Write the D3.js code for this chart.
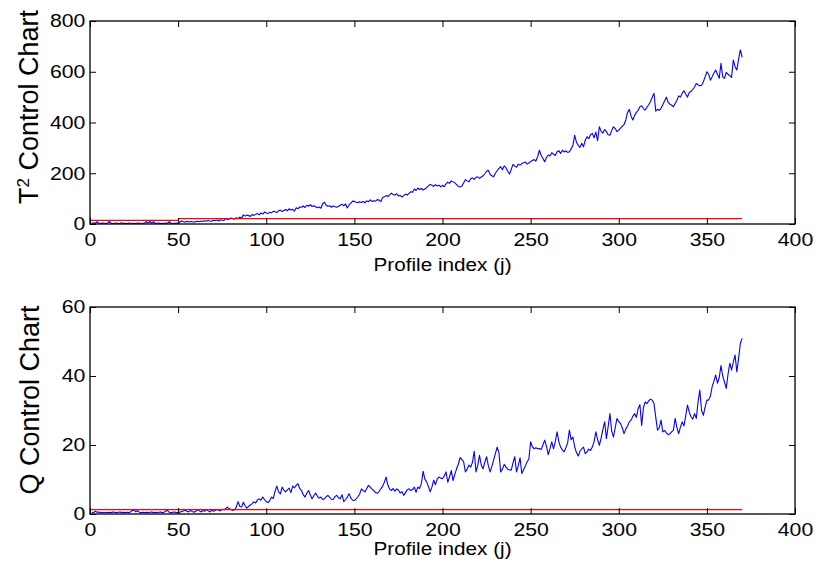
<!DOCTYPE html>
<html>
<head>
<meta charset="utf-8">
<script src="https://cdn.jsdelivr.net/npm/d3@7"></script>
<style>
  body { margin: 0; background: #fff; }
  svg { display: block; font-family: "Liberation Sans", Arial, sans-serif; }
</style>
</head>
<body>
<svg id="chart" width="816" height="563"></svg>
<script>
// Hotelling T^2 statistic per profile j = 1..370
const t2Values = [
  3, 5, 2, 9, 3, 2, 4, 3, 2, 4,
  10, 3, 2, 3, 4, 2, 3, 5, 2, 3,
  2, 4, 3, 2, 3, 2, 4, 3, 2, 3,
  3, 9, 4, 10, 3, 9, 2, 3, 4, 2,
  3, 2, 4, 3, 9, 3, 2, 3, 4, 2,
  8, 12, 9, 7, 11, 8, 10, 9, 7, 10,
  11, 9, 12, 10, 13, 11, 14, 12, 11, 15,
  13, 16, 12, 17, 15, 14, 22, 18, 20, 24,
  22, 19, 25, 21, 27, 24, 36, 31, 35, 33,
  30, 37, 34, 38, 41, 36, 44, 39, 47, 43,
  41, 46, 44, 50, 48, 45, 52, 55, 49, 53,
  57, 52, 60, 55, 58, 51, 64, 60, 67, 66,
  71, 65, 74, 70, 76, 69, 72, 68, 64, 67,
  62, 79, 86, 74, 70, 72, 66, 71, 68, 66,
  70, 74, 78, 71, 79, 63, 75, 82, 90, 89,
  86, 84, 88, 85, 89, 83, 91, 88, 95, 89,
  92, 90, 96, 94, 88, 104, 107, 112, 108, 115,
  122, 116, 114, 120, 110, 113, 106, 112, 118, 114,
  121, 127, 125, 138, 132, 142, 136, 140, 134, 138,
  143, 150, 156, 153, 148, 155, 150, 153, 146, 152,
  147, 158, 165, 160, 170, 166, 162, 155, 148, 146,
  150, 162, 175, 170, 166, 178, 182, 176, 184, 186,
  180, 185, 190, 198, 208, 212, 195, 190, 186, 200,
  210, 219, 226, 214, 229, 222, 208, 197, 215, 235,
  228, 224, 236, 232, 238, 241, 244, 236, 240, 246,
  250, 254, 248, 266, 291, 270, 258, 245, 262, 272,
  268, 281, 275, 270, 285, 289, 278, 291, 284, 288,
  282, 285, 296, 310, 350, 322, 310, 302, 318, 304,
  330, 344, 336, 352, 357, 340, 362, 328, 383, 365,
  358, 372, 364, 352, 350, 368, 383, 376, 364, 370,
  378, 385, 392, 410, 440, 452, 425, 410, 428, 440,
  448, 462, 466, 455, 449, 460, 470, 482, 500, 515,
  445, 452, 448, 456, 470, 485, 500, 480, 472, 468,
  462, 475, 488, 505, 500, 515, 525, 512, 500, 518,
  522, 530, 540, 554, 548, 545, 547, 560, 580, 600,
  590, 567, 580, 595, 607, 590, 574, 633, 580, 574,
  597, 590, 585, 578, 646, 620, 607, 650, 686, 657
];

// Q (squared prediction error) statistic per profile j = 1..370
const qValues = [
  0.5, 0.4, 0.8, 0.5, 0.6, 0.4, 0.5, 0.3, 0.5, 0.4,
  0.5, 0.4, 0.6, 0.5, 0.4, 0.5, 0.6, 0.4, 0.5, 0.4,
  0.5, 0.4, 0.6, 1.0, 1.1, 0.6, 1.0, 0.5, 0.4, 0.5,
  0.4, 0.5, 0.4, 0.5, 0.6, 0.4, 0.5, 0.4, 0.5, 0.6,
  0.4, 0.5, 0.9, 1.0, 0.5, 0.4, 0.5, 0.6, 0.4, 0.5,
  0.5, 0.7, 0.9, 1.1, 0.8, 0.6, 1.0, 0.7, 0.5, 0.8,
  1.2, 0.9, 0.6, 1.0, 0.8, 1.3, 0.9, 0.6, 1.1, 0.8,
  1.0, 1.3, 1.1, 0.9, 1.4, 1.2, 1.6, 2.0, 1.5, 1.3,
  1.0, 1.2, 2.0, 3.6, 2.2, 2.0, 3.4, 2.4, 1.7, 2.2,
  2.6, 3.0, 3.5, 3.2, 4.1, 4.4, 4.0, 4.9, 4.2, 3.6,
  3.3, 3.9, 4.9, 4.5, 6.6, 8.1, 6.4, 5.8, 7.8, 6.9,
  6.4, 7.0, 7.5, 6.2, 8.1, 7.6, 8.3, 8.8, 7.4, 6.8,
  5.6, 4.9, 6.0, 6.8, 5.5, 4.4, 5.3, 6.1, 5.2, 4.6,
  4.9, 4.2, 4.4, 5.0, 5.4, 4.8, 4.3, 4.2, 5.1, 5.4,
  4.7, 4.4, 5.6, 3.6, 4.2, 4.9, 5.9, 4.6, 4.0, 3.9,
  4.4, 5.0, 5.8, 7.3, 6.8, 6.4, 7.4, 8.3, 7.8, 7.2,
  6.8, 6.2, 6.0, 6.5, 7.3, 8.0, 9.2, 10.7, 8.4, 7.2,
  6.8, 7.4, 6.6, 7.3, 6.9, 6.1, 6.5, 5.4, 6.2, 7.0,
  7.3, 6.8, 7.1, 7.8, 6.3, 7.8, 7.4, 8.8, 12.4, 10.1,
  9.3, 8.0, 6.4, 7.8, 9.8, 8.5, 10.2, 10.7, 10.4, 10.2,
  11.0, 12.2, 9.2, 10.8, 12.6, 9.7, 11.5, 13.1, 14.5, 16.3,
  15.8, 15.1, 12.2, 13.0, 14.2, 13.6, 15.0, 18.2, 12.2, 14.1,
  17.0, 14.2, 13.1, 15.0, 16.6, 14.0, 12.2, 13.8, 15.6, 17.5,
  19.4, 17.8, 12.2, 13.0, 14.4, 13.6, 13.0, 12.8, 12.7, 14.8,
  16.6, 12.2, 14.0, 16.3, 11.7, 12.8, 13.9, 15.1, 16.0, 20.9,
  19.5, 18.9, 19.2, 18.9, 19.0, 18.7, 20.0, 21.4, 19.6, 17.2,
  19.0, 20.9, 18.9, 21.0, 23.8, 21.0, 19.4, 18.6, 18.0, 19.2,
  20.6, 24.3, 21.5, 22.3, 19.5, 17.8, 16.8, 18.2, 18.9, 19.4,
  17.5, 18.0, 18.8, 18.4, 19.4, 21.0, 23.8, 21.6, 19.9, 22.0,
  24.5, 26.7, 21.8, 25.4, 29.1, 24.0, 22.3, 25.0, 27.7, 26.8,
  26.2, 25.0, 23.3, 24.6, 25.5, 26.7, 27.2, 28.3, 29.1, 28.0,
  30.6, 31.7, 25.7, 30.8, 32.5, 32.0, 32.8, 33.3, 33.0, 32.0,
  28.0, 24.3, 25.0, 27.2, 23.8, 24.2, 23.5, 23.0, 23.2, 23.8,
  24.3, 27.7, 25.0, 23.3, 25.2, 26.7, 25.5, 28.5, 31.6, 29.5,
  28.2, 27.5, 29.1, 27.7, 32.5, 35.9, 30.0, 28.6, 31.0, 33.0,
  33.0, 34.2, 36.9, 38.5, 40.3, 37.9, 39.5, 43.0, 40.0, 38.2,
  36.4, 40.5, 43.7, 41.7, 44.0, 46.1, 41.2, 45.1, 49.5, 50.9
];

// Control limits: [from j, to j, limit]
const t2Limits = [[0, 50, 14.5], [50, 370, 21]];
const qLimits = [[0, 370, 1.25]];

// Axis ticks
const xTicks = [0, 50, 100, 150, 200, 250, 300, 350, 400];
const t2Ticks = [0, 200, 400, 600, 800];
const qTicks = [0, 20, 40, 60];
const xTitle = "Profile index (j)";

const svg = d3.select("#chart");
const x = d3.scaleLinear().domain([0, 400]).range([90, 795]);

const panels = [
  { values: t2Values, limits: t2Limits, ticks: t2Ticks, domain: [0, 800],
    top: 21, bottom: 224, xTitleGap: 47,
    title: "T", sup: "2", rest: " Control Chart", titleX: 38, titleY: 107 },
  { values: qValues, limits: qLimits, ticks: qTicks, domain: [0, 60],
    top: 307, bottom: 514, xTitleGap: 41,
    title: "Q Control Chart", sup: null, rest: null, titleX: 39, titleY: 400 }
];

const stretch = "scale(1.18,1)";

panels.forEach(p => {
  const y = d3.scaleLinear().domain(p.domain).range([p.bottom, p.top]);
  const g = svg.append("g");

  // statistic trace
  g.append("path")
    .datum(p.values)
    .attr("fill", "none")
    .attr("stroke", "#0000ff")
    .attr("stroke-width", 1.1)
    .attr("stroke-linejoin", "round")
    .attr("d", d3.line().x((d, i) => x(i + 1)).y(d => y(d)));

  // control limit(s)
  g.selectAll("line.limit")
    .data(p.limits)
    .join("line")
    .attr("class", "limit")
    .attr("x1", d => x(d[0]))
    .attr("x2", d => x(d[1]))
    .attr("y1", d => y(d[2]))
    .attr("y2", d => y(d[2]))
    .attr("stroke", "#ff0000")
    .attr("stroke-width", 1.2);

  // axes, ticks pointing inward on all four sides
  const bottomAxis = g.append("g")
    .attr("transform", `translate(0,${p.bottom})`)
    .call(d3.axisBottom(x).tickValues(xTicks).tickSizeInner(-6).tickSizeOuter(0).tickPadding(9));
  const leftAxis = g.append("g")
    .attr("transform", `translate(${x(0)},0)`)
    .call(d3.axisLeft(y).tickValues(p.ticks).tickSizeInner(-6).tickSizeOuter(0).tickPadding(4));
  g.append("g")
    .attr("transform", `translate(0,${p.top})`)
    .call(d3.axisTop(x).tickValues(xTicks).tickSizeInner(-6).tickSizeOuter(0).tickFormat(""));
  g.append("g")
    .attr("transform", `translate(${x(400)},0)`)
    .call(d3.axisRight(y).tickValues(p.ticks).tickSizeInner(-6).tickSizeOuter(0).tickFormat(""));

  g.selectAll(".domain").remove();
  g.selectAll(".tick line").attr("stroke", "#000").attr("stroke-width", 1);
  [bottomAxis, leftAxis].forEach(a => a.selectAll("text")
    .attr("font-size", 18)
    .attr("fill", "#000")
    .attr("font-family", "'Liberation Sans', Arial, sans-serif")
    .attr("transform", stretch));

  // frame
  g.append("rect")
    .attr("x", x(0)).attr("y", p.top)
    .attr("width", x(400) - x(0)).attr("height", p.bottom - p.top)
    .attr("fill", "none").attr("stroke", "#000").attr("stroke-width", 1.3);

  // x title
  g.append("text")
    .attr("transform", `translate(${(x(0) + x(400)) / 2},${p.bottom + p.xTitleGap}) scale(1.12,1)`)
    .attr("text-anchor", "middle")
    .attr("font-size", 18.5)
    .text(xTitle);

  // y title
  const yt = g.append("text")
    .attr("transform", `translate(${p.titleX},${p.titleY}) rotate(-90)`)
    .attr("text-anchor", "middle")
    .attr("font-size", 27);
  yt.append("tspan").text(p.title);
  if (p.sup) {
    yt.append("tspan").attr("baseline-shift", "super").attr("font-size", 17).text(p.sup);
    yt.append("tspan").text(p.rest);
  }
});
</script>
</body>
</html>
